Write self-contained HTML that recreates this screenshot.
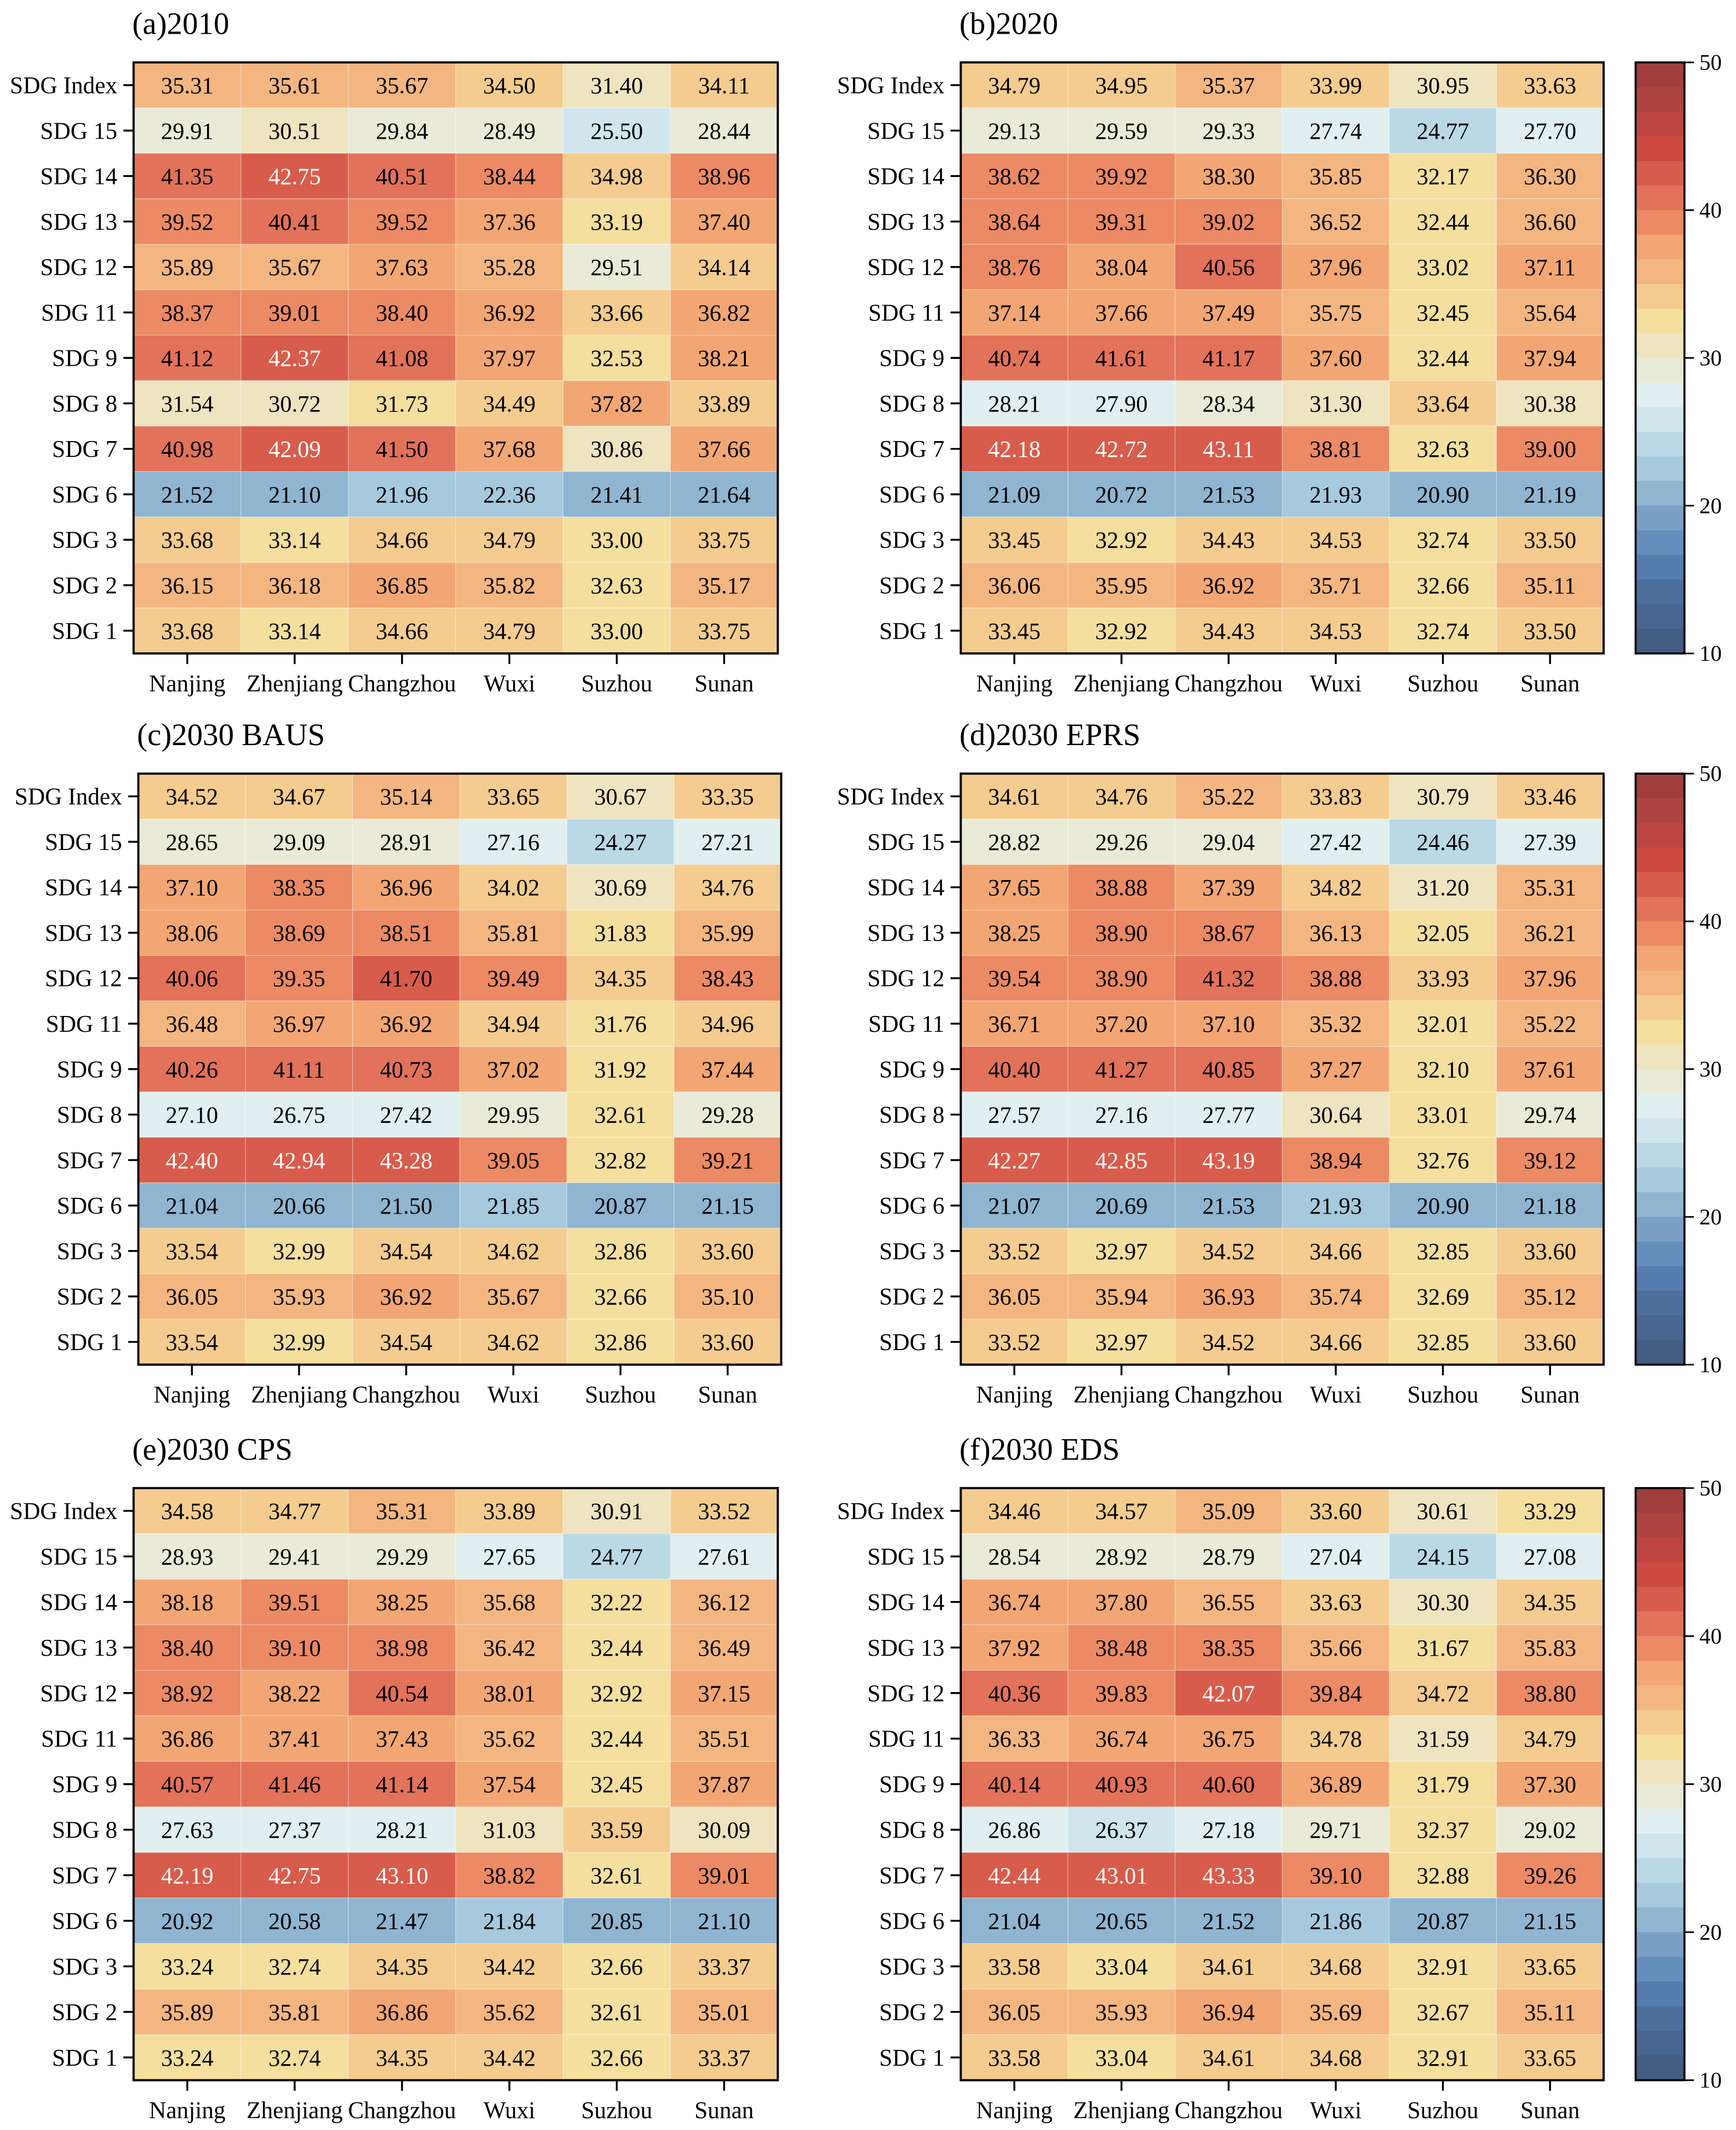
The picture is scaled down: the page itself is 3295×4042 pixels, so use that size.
<!DOCTYPE html>
<html><head><meta charset="utf-8">
<style>
html,body{margin:0;padding:0;background:#fff;}
svg{display:block;font-family:"Liberation Serif","DejaVu Serif",serif;}
</style></head>
<body>
<svg id="fig" width="3295" height="4042" viewBox="0 0 1280 1570.2" xmlns="http://www.w3.org/2000/svg"></svg>
<script>
const rowLabels = ["SDG Index","SDG 15","SDG 14","SDG 13","SDG 12","SDG 11","SDG 9","SDG 8","SDG 7","SDG 6","SDG 3","SDG 2","SDG 1"];
const cities = ["Nanjing","Zhenjiang","Changzhou","Wuxi","Suzhou","Sunan"];
const cbTicks = [10,20,30,40,50];
const titles = ["(a)2010","(b)2020","(c)2030 BAUS","(d)2030 EPRS","(e)2030 CPS","(f)2030 EDS"];
const data2010 = [
[35.31,35.61,35.67,34.50,31.40,34.11],[29.91,30.51,29.84,28.49,25.50,28.44],[41.35,42.75,40.51,38.44,34.98,38.96],
[39.52,40.41,39.52,37.36,33.19,37.40],[35.89,35.67,37.63,35.28,29.51,34.14],[38.37,39.01,38.40,36.92,33.66,36.82],
[41.12,42.37,41.08,37.97,32.53,38.21],[31.54,30.72,31.73,34.49,37.82,33.89],[40.98,42.09,41.50,37.68,30.86,37.66],
[21.52,21.10,21.96,22.36,21.41,21.64],[33.68,33.14,34.66,34.79,33.00,33.75],[36.15,36.18,36.85,35.82,32.63,35.17],
[33.68,33.14,34.66,34.79,33.00,33.75]];
const data2020 = [
[34.79,34.95,35.37,33.99,30.95,33.63],[29.13,29.59,29.33,27.74,24.77,27.70],[38.62,39.92,38.30,35.85,32.17,36.30],
[38.64,39.31,39.02,36.52,32.44,36.60],[38.76,38.04,40.56,37.96,33.02,37.11],[37.14,37.66,37.49,35.75,32.45,35.64],
[40.74,41.61,41.17,37.60,32.44,37.94],[28.21,27.90,28.34,31.30,33.64,30.38],[42.18,42.72,43.11,38.81,32.63,39.00],
[21.09,20.72,21.53,21.93,20.90,21.19],[33.45,32.92,34.43,34.53,32.74,33.50],[36.06,35.95,36.92,35.71,32.66,35.11],
[33.45,32.92,34.43,34.53,32.74,33.50]];
const dataBAUS = [
[34.52,34.67,35.14,33.65,30.67,33.35],[28.65,29.09,28.91,27.16,24.27,27.21],[37.10,38.35,36.96,34.02,30.69,34.76],
[38.06,38.69,38.51,35.81,31.83,35.99],[40.06,39.35,41.70,39.49,34.35,38.43],[36.48,36.97,36.92,34.94,31.76,34.96],
[40.26,41.11,40.73,37.02,31.92,37.44],[27.10,26.75,27.42,29.95,32.61,29.28],[42.40,42.94,43.28,39.05,32.82,39.21],
[21.04,20.66,21.50,21.85,20.87,21.15],[33.54,32.99,34.54,34.62,32.86,33.60],[36.05,35.93,36.92,35.67,32.66,35.10],
[33.54,32.99,34.54,34.62,32.86,33.60]];
const dataEPRS = [
[34.61,34.76,35.22,33.83,30.79,33.46],[28.82,29.26,29.04,27.42,24.46,27.39],[37.65,38.88,37.39,34.82,31.20,35.31],
[38.25,38.90,38.67,36.13,32.05,36.21],[39.54,38.90,41.32,38.88,33.93,37.96],[36.71,37.20,37.10,35.32,32.01,35.22],
[40.40,41.27,40.85,37.27,32.10,37.61],[27.57,27.16,27.77,30.64,33.01,29.74],[42.27,42.85,43.19,38.94,32.76,39.12],
[21.07,20.69,21.53,21.93,20.90,21.18],[33.52,32.97,34.52,34.66,32.85,33.60],[36.05,35.94,36.93,35.74,32.69,35.12],
[33.52,32.97,34.52,34.66,32.85,33.60]];
const dataCPS = [
[34.58,34.77,35.31,33.89,30.91,33.52],[28.93,29.41,29.29,27.65,24.77,27.61],[38.18,39.51,38.25,35.68,32.22,36.12],
[38.40,39.10,38.98,36.42,32.44,36.49],[38.92,38.22,40.54,38.01,32.92,37.15],[36.86,37.41,37.43,35.62,32.44,35.51],
[40.57,41.46,41.14,37.54,32.45,37.87],[27.63,27.37,28.21,31.03,33.59,30.09],[42.19,42.75,43.10,38.82,32.61,39.01],
[20.92,20.58,21.47,21.84,20.85,21.10],[33.24,32.74,34.35,34.42,32.66,33.37],[35.89,35.81,36.86,35.62,32.61,35.01],
[33.24,32.74,34.35,34.42,32.66,33.37]];
const dataEDS = [
[34.46,34.57,35.09,33.60,30.61,33.29],[28.54,28.92,28.79,27.04,24.15,27.08],[36.74,37.80,36.55,33.63,30.30,34.35],
[37.92,38.48,38.35,35.66,31.67,35.83],[40.36,39.83,42.07,39.84,34.72,38.80],[36.33,36.74,36.75,34.78,31.59,34.79],
[40.14,40.93,40.60,36.89,31.79,37.30],[26.86,26.37,27.18,29.71,32.37,29.02],[42.44,43.01,43.33,39.10,32.88,39.26],
[21.04,20.65,21.52,21.86,20.87,21.15],[33.58,33.04,34.61,34.68,32.91,33.65],[36.05,35.93,36.94,35.69,32.67,35.11],
[33.58,33.04,34.61,34.68,32.91,33.65]];
const datasets = [data2010,data2020,dataBAUS,dataEPRS,dataCPS,dataEDS];

const palette = ["#a03e3e","#ad4440","#bd4540","#cc4a42","#d85c4b","#e2725a","#eb8a64","#f2a673","#f3b681","#f4cc8f","#f5df9f","#efe4c0","#e9ebd8","#e1eff0","#d1e5ec","#bbd8e5","#a6c9dd","#8fb5d0","#7aa0c6","#648fbd","#557db0","#4d6f9b","#486690","#435c82"];
const VMIN=10, VMAX=50, NB=palette.length;
function colorOf(v){let i=Math.floor((VMAX-v)/(VMAX-VMIN)*NB);i=Math.max(0,Math.min(NB-1,i));return palette[i];}

const NS="http://www.w3.org/2000/svg";
const svg=document.getElementById('fig');
function mk(tag,attrs,parent){const e=document.createElementNS(NS,tag);for(const k in attrs)e.setAttribute(k,attrs[k]);(parent||svg).appendChild(e);return e;}

const boxes=[
 {x:98.5,y:46,w:475,h:435.7},{x:708.4,y:46,w:474,h:435.7},
 {x:102,y:570.3,w:474,h:435.7},{x:708.4,y:570.3,w:474,h:435.7},
 {x:98.5,y:1097,w:475,h:436.5},{x:708.4,y:1097,w:474,h:436.5}];

boxes.forEach((b,p)=>{
  const g=mk('g',{});
  
  
  const data=datasets[p];
  const cw=b.w/cities.length, ch=b.h/rowLabels.length;
  const xScale=j=>b.x+j*cw, yScale=i=>b.y+i*ch;
  const t=mk('text',{x:b.x-1,y:b.y-21,'font-size':23,fill:'#000'},g);
  t.textContent=titles[p];
  
  
  data.forEach((row,i)=>{
    row.forEach((v,j)=>{
      const r=mk('rect',{x:xScale(j),y:yScale(i),width:cw,height:ch,fill:colorOf(v),stroke:'#ffffff','stroke-opacity':0.35,'stroke-width':0.5},g);
      
      
      const tx=mk('text',{x:xScale(j)+cw/2,y:yScale(i)+ch/2+6,'text-anchor':'middle','font-size':17.2,fill:v>=42?'#fff':'#000'},g);
      tx.textContent=v.toFixed(2);
      
      
    });
  });
  rowLabels.forEach((lab,i)=>{
    const cy=yScale(i)+ch/2;
    mk('line',{x1:b.x-7.5,x2:b.x,y1:cy,y2:cy,stroke:'#000','stroke-width':1.4},g);
    const tx=mk('text',{x:b.x-12,y:cy+6,'text-anchor':'end','font-size':17.5},g);
    tx.textContent=lab;
    
    
  });
  cities.forEach((c,j)=>{
    const cx=xScale(j)+cw/2;
    mk('line',{x1:cx,x2:cx,y1:b.y+b.h,y2:b.y+b.h+7.8,stroke:'#000','stroke-width':1.4},g);
    const tx=mk('text',{x:cx,y:b.y+b.h+28,'text-anchor':'middle','font-size':17.5},g);
    tx.textContent=c;
    
    
  });
  mk('rect',{x:b.x,y:b.y,width:b.w,height:b.h,fill:'none',stroke:'#000','stroke-width':1.6},g);
});

// colorbars
[1,3,5].forEach(p=>{
  const b=boxes[p];
  const g=mk('g',{});
  
  
  const cx=1206, cwid=36, top=b.y, h=b.h;
  const yv=v=>top+(VMAX-v)/(VMAX-VMIN)*h;
  palette.forEach((col,k)=>{
    const v1=VMAX-k*(VMAX-VMIN)/NB, v2=VMAX-(k+1)*(VMAX-VMIN)/NB;
    mk('rect',{x:cx,y:yv(v1),width:cwid,height:yv(v2)-yv(v1)+0.3,fill:col},g);
  });
  mk('rect',{x:cx,y:top,width:cwid,height:h,fill:'none',stroke:'#000','stroke-width':1.5},g);
  cbTicks.forEach(v=>{
    const y=yv(v);
    mk('line',{x1:cx+cwid,x2:cx+cwid+7,y1:y,y2:y,stroke:'#000','stroke-width':1.2},g);
    const tx=mk('text',{x:cx+cwid+11,y:y+5.5,'font-size':16.5},g);
    tx.textContent=v;
    
    
  });
});
</script>
</body></html>
